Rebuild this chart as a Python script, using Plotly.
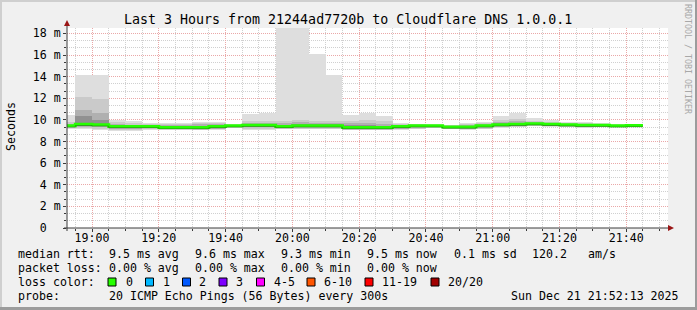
import plotly.graph_objects as go
import pandas as pd

# ---------------- data (milliseconds) ----------------
step_start = pd.date_range("2025-12-21 18:50:00", periods=35, freq="5min")

rtt_max  = [10.43, 14.17, 14.17, 10.0, 9.9, 9.67, 9.72, 9.72, 9.85, 9.85, 9.6, 10.5, 10.65, 18.6, 18.6, 16.07, 14.17,
            10.45, 10.65, 10.35, 9.7, 9.65, 9.6, 9.55, 9.75, 9.85, 10.35, 10.65, 10.2, 9.95, 9.8, 9.8, 9.7, 9.6, 9.6]
band1_hi = [9.8, 12.1, 11.9, 9.77, 9.7, 9.6, 9.6, 9.65, 9.7, 9.7, 9.55, 9.9, 9.9, 9.9, 10.0, 9.9, 9.9,
            9.9, 10.0, 9.9, 9.6, 9.6, 9.55, 9.5, 9.6, 9.7, 10.0, 10.1, 9.9, 9.8, 9.7, 9.7, 9.65, 9.55, 9.55]
band2_hi = [9.65, 10.9, 10.6, 9.6, 9.55, 9.5, 9.5, 9.55, 9.6, 9.6, 9.5, 9.7, 9.7, 9.7, 9.8, 9.75, 9.7,
            9.7, 9.7, 9.65, 9.55, 9.55, 9.5, 9.45, 9.5, 9.6, 9.85, 9.9, 9.8, 9.7, 9.65, 9.65, 9.6, 9.5, 9.52]
band3_hi = [9.55, 10.4, 10.0, 9.5, 9.45, 9.45, 9.4, 9.45, 9.45, 9.5, 9.48, 9.6, 9.6, 9.55, 9.6, 9.6, 9.6,
            9.5, 9.5, 9.45, 9.45, 9.5, 9.48, 9.4, 9.45, 9.5, 9.7, 9.75, 9.7, 9.65, 9.6, 9.6, 9.55, 9.48, 9.5]
rtt_median = [9.45, 9.6, 9.55, 9.4, 9.4, 9.4, 9.3, 9.3, 9.3, 9.4, 9.45, 9.5, 9.5, 9.4, 9.45, 9.45, 9.45,
              9.3, 9.3, 9.3, 9.4, 9.45, 9.45, 9.35, 9.35, 9.45, 9.55, 9.6, 9.65, 9.6, 9.55, 9.5, 9.5, 9.45, 9.48]
band3_lo = [9.35, 9.45, 9.4, 9.3, 9.3, 9.3, 9.22, 9.22, 9.2, 9.25, 9.4, 9.4, 9.4, 9.3, 9.35, 9.35, 9.35,
            9.2, 9.2, 9.2, 9.3, 9.35, 9.4, 9.3, 9.25, 9.35, 9.45, 9.5, 9.55, 9.5, 9.45, 9.4, 9.45, 9.4, 9.45]
band2_lo = [9.3, 9.35, 9.3, 9.2, 9.2, 9.25, 9.18, 9.18, 9.15, 9.2, 9.35, 9.3, 9.3, 9.25, 9.3, 9.3, 9.3,
            9.15, 9.15, 9.15, 9.2, 9.3, 9.35, 9.25, 9.2, 9.3, 9.4, 9.4, 9.5, 9.45, 9.4, 9.35, 9.4, 9.38, 9.42]
band1_lo = [9.25, 9.25, 9.2, 9.1, 9.1, 9.15, 9.12, 9.12, 9.1, 9.15, 9.3, 9.2, 9.2, 9.2, 9.2, 9.2, 9.2,
            9.1, 9.1, 9.1, 9.15, 9.2, 9.3, 9.2, 9.15, 9.2, 9.3, 9.35, 9.45, 9.4, 9.35, 9.3, 9.35, 9.35, 9.4]
rtt_min  = [9.2, 9.15, 9.1, 9.0, 9.0, 9.1, 9.1, 9.1, 9.05, 9.1, 9.25, 9.1, 9.1, 9.15, 9.15, 9.15, 9.15,
            9.05, 9.05, 9.05, 9.1, 9.15, 9.25, 9.15, 9.1, 9.15, 9.25, 9.3, 9.4, 9.35, 9.3, 9.25, 9.3, 9.3, 9.35]

y_tick_vals = [0, 2, 4, 6, 8, 10, 12, 14, 16, 18]
y_tick_text = ["0\u00a0\u00a0"] + [f"{v} m" for v in y_tick_vals[1:]]

title_text = "Last 3 Hours from 21244ad7720b to Cloudflare DNS 1.0.0.1"
row1 = [("median rtt:", 16), ("9.5 ms avg", 107), ("9.6 ms max", 193), ("9.3 ms min", 279),
        ("9.5 ms now", 365), ("0.1 ms sd", 452), ("120.2", 530), ("am/s", 586)]
row2 = [("packet loss:", 16), ("0.00 % avg", 107), ("0.00 % max", 193), ("0.00 % min", 279),
        ("0.00 % now", 365)]
loss_labels = ["0", "1", "2", "3", "4-5", "6-10", "11-19", "20/20"]
loss_colors = ["#26ff00", "#00b8ff", "#0059ff", "#7e00ff", "#ff00ff", "#ff5500", "#ff0000", "#a00000"]
loss_box_x = [108, 145.5, 182.5, 219, 256.5, 307, 365, 431]
loss_text_x = [124, 160.5, 197, 234, 271.5, 321.5, 380, 445.5]
probe_text = "20 ICMP Echo Pings (56 Bytes) every 300s"
stamp_text = "Sun Dec 21 21:52:13 2025"

# ---------------- geometry ----------------
W, H = 697, 310
L, R, T, B = 67, 29, 28, 82
PW, PH = W - L - R, H - T - B
def px(x): return (x - L) / PW
def py(y): return (H - B - y) / PH

MONO = "DejaVu Sans Mono"
FS = 11.6
GRID = "#d0d0d0"
MGRID = "#eaa8a8"

fig = go.Figure()

centers = step_start + pd.Timedelta(seconds=150)
layers = [(rtt_min, rtt_max, "#dedede"), (band1_lo, band1_hi, "#cacaca"),
          (band2_lo, band2_hi, "#b0b0b0"), (band3_lo, band3_hi, "#919191")]
for lo, hi, col in layers:
    fig.add_trace(go.Bar(x=centers, y=[h - l for l, h in zip(lo, hi)], base=lo,
                         width=300000, marker=dict(color=col, line=dict(width=0)),
                         hoverinfo="skip"))

mx = list(step_start) + [step_start[-1] + pd.Timedelta(minutes=5)]
my = rtt_median + [rtt_median[-1]]
fig.add_trace(go.Scatter(x=mx, y=my, mode="lines", line=dict(color="#26ff00", width=3, shape="hv"),
                         hoverinfo="skip"))
fig.add_trace(go.Scatter(x=mx, y=[v - 0.12 for v in my], mode="lines",
                         line=dict(color="rgba(32,32,32,0.35)", width=1, shape="hv"), hoverinfo="skip"))

shapes = []
# frame
shapes.append(dict(type="rect", xref="paper", yref="paper", x0=px(0), x1=px(W), y0=py(0), y1=py(2),
                   fillcolor="#cfcfcf", line=dict(width=0), layer="below"))
shapes.append(dict(type="rect", xref="paper", yref="paper", x0=px(0), x1=px(2), y0=py(0), y1=py(H),
                   fillcolor="#cfcfcf", line=dict(width=0), layer="below"))
shapes.append(dict(type="rect", xref="paper", yref="paper", x0=px(0), x1=px(W), y0=py(H - 3), y1=py(H),
                   fillcolor="#9c9c9c", line=dict(width=0)))
shapes.append(dict(type="rect", xref="paper", yref="paper", x0=px(W - 2), x1=px(W), y0=py(0), y1=py(H),
                   fillcolor="#9c9c9c", line=dict(width=0)))
# axes
AX = "#3a3a3a"
shapes.append(dict(type="line", xref="paper", yref="paper", x0=px(67), x1=px(67), y0=py(231), y1=py(25),
                   line=dict(color=AX, width=1)))
shapes.append(dict(type="line", xref="paper", yref="paper", x0=px(64), x1=px(669), y0=py(228), y1=py(228),
                   line=dict(color=AX, width=1)))
ARW = "#9a1515"
shapes.append(dict(type="path", xref="paper", yref="paper",
                   path=f"M {px(64)} {py(26)} L {px(70)} {py(26)} L {px(67)} {py(20)} Z",
                   fillcolor=ARW, line=dict(color=ARW, width=0)))
shapes.append(dict(type="path", xref="paper", yref="paper",
                   path=f"M {px(668)} {py(225)} L {px(668)} {py(231)} L {px(674)} {py(228)} Z",
                   fillcolor=ARW, line=dict(color=ARW, width=0)))
# loss colour boxes
for bx, col in zip(loss_box_x, loss_colors):
    shapes.append(dict(type="rect", xref="paper", yref="paper", x0=px(bx), x1=px(bx + 8),
                       y0=py(286), y1=py(278), fillcolor=col, line=dict(color="black", width=1)))

ann = []
def txt(t, x, y, anchor="left", size=FS, color="black", angle=0):
    ann.append(dict(text=t, x=px(x), y=py(y), xref="paper", yref="paper", xanchor=anchor,
                    yanchor="middle", showarrow=False, textangle=angle,
                    font=dict(family=MONO, size=size, color=color)))

txt(title_text, 348, 19, anchor="center", size=13.3)
txt("Seconds", 11, 127, anchor="center", angle=-90)
txt("RRDTOOL / TOBI OETIKER", 688, 59, anchor="center", size=8.3, color="#a8a8a8", angle=90)
for t, x in row1:
    txt(t, x, 254)
for t, x in row2:
    txt(t, x, 268)
txt("loss color:", 16, 282)
for t, x in zip(loss_labels, loss_text_x):
    txt(t, x, 282)
txt("probe:", 16, 296)
txt(probe_text, 107, 296)
txt(stamp_text, 681, 296, anchor="right")

fig.update_layout(
    width=W, height=H, margin=dict(l=L, r=R, t=T, b=B, pad=0),
    paper_bgcolor="#f0f0f0", plot_bgcolor="#ffffff",
    showlegend=False, barmode="overlay", bargap=0,
    shapes=shapes, annotations=ann,
    xaxis=dict(type="date", range=["2025-12-21 18:52:30", "2025-12-21 21:52:30"],
               tick0="2025-12-21 19:00:00", dtick=1200000, tickformat="%H:%M",
               showgrid=True, gridcolor=MGRID, gridwidth=1, griddash="1px,1px",
               ticks="outside", ticklen=3, tickcolor=AX, showline=False, zeroline=False,
               ticklabelstandoff=-4,
               tickfont=dict(family=MONO, size=FS, color="black"),
               minor=dict(dtick=300000, showgrid=True, gridcolor=GRID, griddash="1px,1px",
                          ticks="outside", ticklen=2, tickcolor=AX),
               fixedrange=True),
    yaxis=dict(range=[0, 18.5], tickvals=y_tick_vals, ticktext=y_tick_text,
               showgrid=True, gridcolor=MGRID, gridwidth=1, griddash="1px,1px",
               ticks="outside", ticklen=3, tickcolor=AX, showline=False, zeroline=False,
               tickfont=dict(family=MONO, size=FS, color="black"),
               minor=dict(tick0=0, dtick=2 / 3, showgrid=True, gridcolor=GRID, griddash="1px,1px",
                          ticks="outside", ticklen=2, tickcolor=AX),
               fixedrange=True),
)

fig.write_html("out.html", config={"displayModeBar": False})
